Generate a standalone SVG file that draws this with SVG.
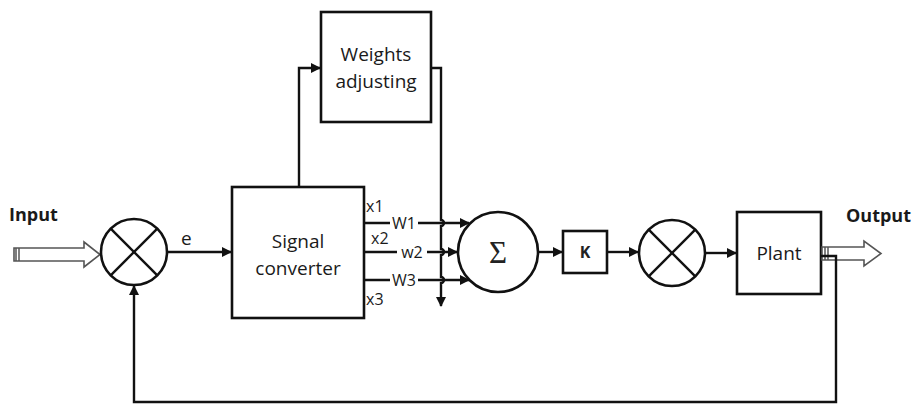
<svg xmlns="http://www.w3.org/2000/svg" width="916" height="405" viewBox="0 0 916 405">
<defs>
<marker id="ah" markerWidth="10" markerHeight="10" refX="9" refY="5" orient="auto" markerUnits="userSpaceOnUse">
<path d="M0,0 L10,5 L0,10 Z" fill="#111"/>
</marker>
<style>
.box{fill:#fff;stroke:#111;stroke-width:2.6}
.ln{fill:none;stroke:#111;stroke-width:2.4}
.t{font-family:"Open Sans","Liberation Sans",sans-serif;font-size:19px;fill:#1a1a1a;text-anchor:middle}
.s{font-family:"Open Sans","Liberation Sans",sans-serif;font-size:16px;fill:#1a1a1a}
.b{font-family:"Open Sans","Liberation Sans",sans-serif;font-size:18px;font-weight:bold;fill:#1a1a1a}
.hollow{fill:#fff;stroke:#555;stroke-width:1.6}
</style>
</defs>
<rect width="916" height="405" fill="#fff"/>

<g id="input">
<text class="b" x="9" y="221">Input</text>
<path class="hollow" d="M14,248 L84,248 L84,242 L100,254.5 L84,267 L84,261 L14,261 Z"/>
<line x1="16" y1="248" x2="16" y2="261" stroke="#555" stroke-width="1.5"/>
<line x1="19" y1="248" x2="19" y2="261" stroke="#555" stroke-width="1.5"/>
</g>

<g id="sum1">
<circle class="box" cx="134" cy="252" r="33"/>
<line class="ln" x1="110.7" y1="228.7" x2="157.3" y2="275.3"/>
<line class="ln" x1="157.3" y1="228.7" x2="110.7" y2="275.3"/>
</g>

<g id="signal-converter">
<rect class="box" x="232" y="187" width="132" height="131"/>
<text class="t" x="298" y="248">Signal</text>
<text class="t" x="298" y="275">converter</text>
</g>

<g id="weights">
<rect class="box" x="321" y="12" width="110" height="110"/>
<text class="t" x="376" y="61">Weights</text>
<text class="t" x="376" y="88">adjusting</text>
</g>

<g id="sigma">
<circle class="box" cx="498" cy="252" r="40"/>
<text x="498" y="263" text-anchor="middle" font-family="'Liberation Serif',serif" font-size="31" fill="#222">Σ</text>
</g>

<g id="gain-k">
<rect class="box" x="563" y="231" width="44" height="42"/>
<text x="585" y="258" text-anchor="middle" font-family="'Open Sans','Liberation Sans',sans-serif" font-size="16" font-weight="bold" fill="#222">K</text>
</g>

<g id="sum2">
<circle class="box" cx="672" cy="253" r="33"/>
<line class="ln" x1="648.7" y1="229.7" x2="695.3" y2="276.3"/>
<line class="ln" x1="695.3" y1="229.7" x2="648.7" y2="276.3"/>
</g>

<g id="plant">
<rect class="box" x="737" y="212" width="84" height="82"/>
<text class="t" x="779" y="260">Plant</text>
</g>

<g id="output">
<text class="b" x="846" y="222">Output</text>
<path class="hollow" d="M822,247 L864,247 L864,241 L881,253.5 L864,266 L864,260 L822,260 Z"/>
<line x1="825" y1="247" x2="825" y2="260" stroke="#555" stroke-width="1.5"/>
<line x1="828" y1="247" x2="828" y2="260" stroke="#555" stroke-width="1.5"/>
</g>

<g id="connectors">
<line class="ln" x1="167" y1="252" x2="231" y2="252" marker-end="url(#ah)"/>
<text class="s" x="181" y="245" style="font-size:19px">e</text>
<polyline class="ln" points="299,187 299,68 320,68" marker-end="url(#ah)"/>
<path class="ln" d="M431,68 L441,68 L441,220 A3,3 0 0 1 441,226 L441,249 A3,3 0 0 1 441,255 L441,277 A3,3 0 0 1 441,283 L441,306" marker-end="url(#ah)"/>
<path class="ln" d="M364,223 L390,223 M418,223 L469,223" marker-end="url(#ah)"/>
<path class="ln" d="M364,252 L397,252 M427,252 L457,252" marker-end="url(#ah)"/>
<path class="ln" d="M364,280 L390,280 M418,280 L469,280" marker-end="url(#ah)"/>
<text class="s" x="404" y="229" text-anchor="middle">W1</text>
<text class="s" x="412" y="258" text-anchor="middle">w2</text>
<text class="s" x="404" y="286" text-anchor="middle">W3</text>
<text class="s" x="366" y="212">x1</text>
<text class="s" x="371" y="244">x2</text>
<text class="s" x="366" y="305">x3</text>
<line class="ln" x1="538" y1="252" x2="562" y2="252" marker-end="url(#ah)"/>
<line class="ln" x1="607" y1="252" x2="638" y2="252" marker-end="url(#ah)"/>
<line class="ln" x1="705" y1="253" x2="736" y2="253" marker-end="url(#ah)"/>
<polyline class="ln" points="821,256 836,256 836,402 134,402 134,286" marker-end="url(#ah)"/>
</g>
</svg>
